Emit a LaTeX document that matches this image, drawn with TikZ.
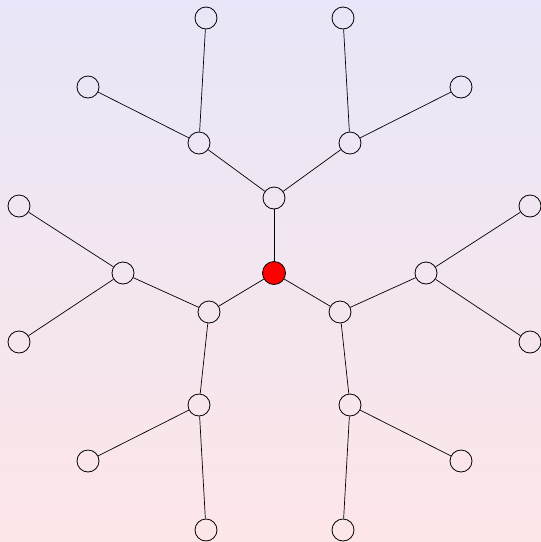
\documentclass[tikz,border=0pt]{standalone}
\definecolor{topc}{HTML}{E8E6F8}
\definecolor{botc}{HTML}{FDE6E8}
\begin{document}
\begin{tikzpicture}[x=1pt,y=-1pt,
  vert/.style={circle,draw=black,line width=0.8pt,minimum size=22pt,inner sep=0pt},
  root/.style={vert,fill=red,minimum size=23pt},
  edge/.style={draw=black,line width=0.7pt}]
\shade[top color=topc,bottom color=botc] (0,0) rectangle (541,542);
\useasboundingbox (0,0) rectangle (541,542);
\node[root] (c) at (274,273) {};
\node[vert] (a) at (274,198) {};
\node[vert] (b) at (209,312) {};
\node[vert] (d) at (340,312) {};
\node[vert] (a1) at (199,143) {};
\node[vert] (a2) at (350,143) {};
\node[vert] (b1) at (123,273) {};
\node[vert] (b2) at (199,405) {};
\node[vert] (d1) at (426,273) {};
\node[vert] (d2) at (350,405) {};
\node[vert] (a11) at (206,18) {};
\node[vert] (a12) at (88,87) {};
\node[vert] (a21) at (343,18) {};
\node[vert] (a22) at (461,87) {};
\node[vert] (b11) at (19,206) {};
\node[vert] (b12) at (19,342) {};
\node[vert] (b21) at (88,461) {};
\node[vert] (b22) at (206,530) {};
\node[vert] (d11) at (530,206) {};
\node[vert] (d12) at (530,342) {};
\node[vert] (d21) at (461,461) {};
\node[vert] (d22) at (343,530) {};
\foreach \u/\v in {c/a,c/b,c/d,a/a1,a/a2,b/b1,b/b2,d/d1,d/d2,a1/a11,a1/a12,a2/a21,a2/a22,b1/b11,b1/b12,b2/b21,b2/b22,d1/d11,d1/d12,d2/d21,d2/d22}
  \draw[edge] (\u) -- (\v);
\end{tikzpicture}
\end{document}
